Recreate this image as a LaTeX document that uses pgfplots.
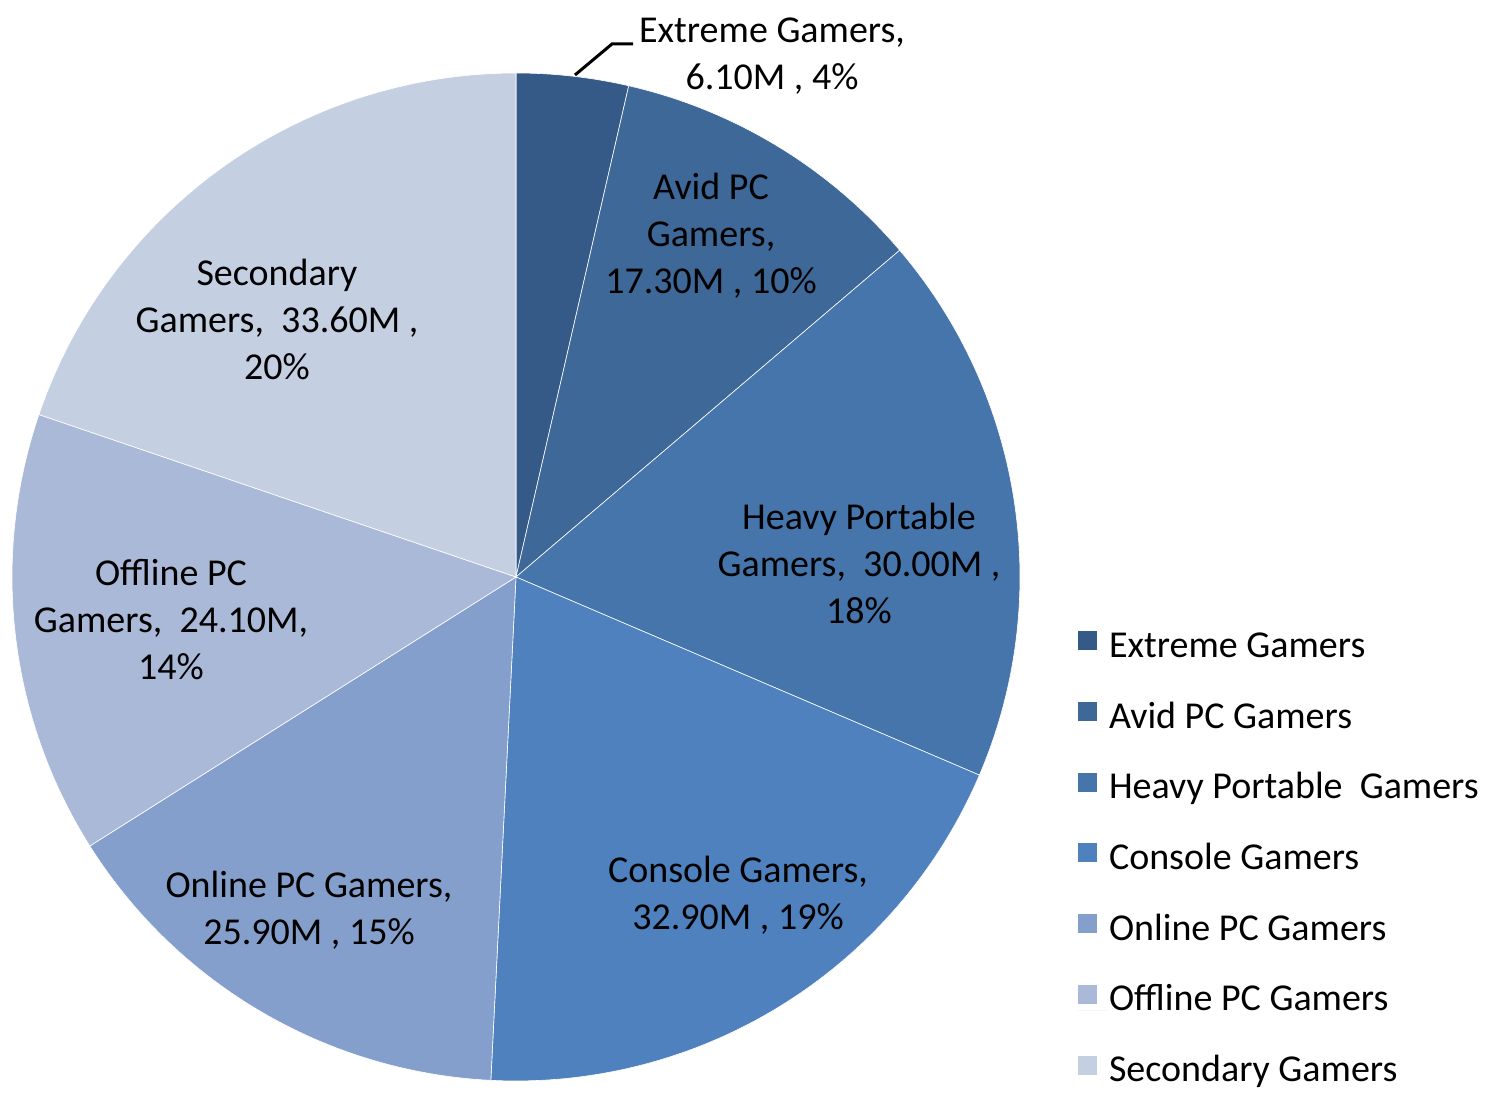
\documentclass[border=0pt]{standalone}
\usepackage{pgfplots}
\pgfplotsset{compat=1.18}
\usepackage{fontspec}
\setmainfont{Carlito}
\definecolor{cA}{HTML}{355A87}
\definecolor{cB}{HTML}{3E6898}
\definecolor{cC}{HTML}{4675AC}
\definecolor{cD}{HTML}{4E81BD}
\definecolor{cE}{HTML}{849FCB}
\definecolor{cF}{HTML}{AAB9D7}
\definecolor{cG}{HTML}{C5CFE2}
\tikzset{lbl/.style={align=center, font=\fontsize{19}{23.5}\selectfont, inner sep=0pt}}
% values (millions)
\def\vA{6.1}\def\vB{17.3}\def\vC{30.0}\def\vD{32.9}\def\vE{25.9}\def\vF{24.1}\def\vG{33.6}
\pgfmathsetmacro\T{\vA+\vB+\vC+\vD+\vE+\vF+\vG}
\pgfmathsetmacro\aA{90}
\pgfmathsetmacro\aB{\aA-\vA/\T*360}
\pgfmathsetmacro\aC{\aB-\vB/\T*360}
\pgfmathsetmacro\aD{\aC-\vC/\T*360}
\pgfmathsetmacro\aE{\aD-\vD/\T*360}
\pgfmathsetmacro\aF{\aE-\vE/\T*360}
\pgfmathsetmacro\aG{\aF-\vF/\T*360}
\pgfmathsetmacro\aH{\aG-\vG/\T*360}
\def\cx{516}\def\cy{519}\def\R{504}
\begin{document}
\begin{tikzpicture}
\begin{axis}[
  xmin=0, xmax=1489, ymin=0, ymax=1096,
  width=744.5pt, height=548pt, scale only axis,
  hide axis, clip=false,
  legend cell align=left,
  legend image code/.code={\fill[#1,draw=none] (0pt,3.5pt) rectangle (9.5pt,13pt); \path (0pt,0pt) -- (15.5pt,0pt);},
  legend style={at={(axis cs:1077,467)}, anchor=north west, draw=none, fill=none,
    inner sep=0pt, row sep=17.35pt, column sep=0pt,
    font=\fontsize{19}{23.5}\selectfont,
    nodes={inner sep=0pt, text height=14pt, text depth=4pt, anchor=base west}},
]
\path (rel axis cs:0,0) rectangle (rel axis cs:1,1);
\addplot[fill=cA, draw=white, line width=0.3pt, domain=\aB:\aA, samples=40, variable=\t]
  ({\cx+\R*cos(\t)}, {\cy+\R*sin(\t)}) -- (axis cs:\cx,\cy) -- cycle;
\addlegendentry{Extreme Gamers}
\addplot[fill=cB, draw=white, line width=0.3pt, domain=\aC:\aB, samples=60, variable=\t]
  ({\cx+\R*cos(\t)}, {\cy+\R*sin(\t)}) -- (axis cs:\cx,\cy) -- cycle;
\addlegendentry{Avid PC Gamers}
\addplot[fill=cC, draw=white, line width=0.3pt, domain=\aD:\aC, samples=80, variable=\t]
  ({\cx+\R*cos(\t)}, {\cy+\R*sin(\t)}) -- (axis cs:\cx,\cy) -- cycle;
\addlegendentry{Heavy Portable~ Gamers}
\addplot[fill=cD, draw=white, line width=0.3pt, domain=\aE:\aD, samples=80, variable=\t]
  ({\cx+\R*cos(\t)}, {\cy+\R*sin(\t)}) -- (axis cs:\cx,\cy) -- cycle;
\addlegendentry{Console Gamers}
\addplot[fill=cE, draw=white, line width=0.3pt, domain=\aF:\aE, samples=80, variable=\t]
  ({\cx+\R*cos(\t)}, {\cy+\R*sin(\t)}) -- (axis cs:\cx,\cy) -- cycle;
\addlegendentry{Online PC Gamers}
\addplot[fill=cF, draw=white, line width=0.3pt, domain=\aG:\aF, samples=80, variable=\t]
  ({\cx+\R*cos(\t)}, {\cy+\R*sin(\t)}) -- (axis cs:\cx,\cy) -- cycle;
\addlegendentry{Offline PC Gamers}
\addplot[fill=cG, draw=white, line width=0.3pt, domain=\aH:\aG, samples=80, variable=\t]
  ({\cx+\R*cos(\t)}, {\cy+\R*sin(\t)}) -- (axis cs:\cx,\cy) -- cycle;
\addlegendentry{Secondary Gamers}
% labels
\draw[black, line width=1.5pt] (axis cs:575,1021) -- (axis cs:612,1052) -- (axis cs:633,1052);
\node[lbl] at (axis cs:772,1040) {Extreme Gamers,\\6.10M , 4\%};
\node[lbl] at (axis cs:711,860) {Avid PC\\Gamers,\\17.30M , 10\%};
\node[lbl] at (axis cs:859,533) {Heavy Portable\\Gamers,~ 30.00M ,\\18\%};
\node[lbl] at (axis cs:738,201) {Console Gamers,\\32.90M , 19\%};
\node[lbl] at (axis cs:309,186) {Online PC Gamers,\\25.90M , 15\%};
\node[lbl] at (axis cs:171,476) {Offline PC\\Gamers,~ 24.10M,\\14\%};
\node[lbl] at (axis cs:277,777) {Secondary\\Gamers,~ 33.60M ,\\20\%};
\end{axis}
\end{tikzpicture}
\end{document}
